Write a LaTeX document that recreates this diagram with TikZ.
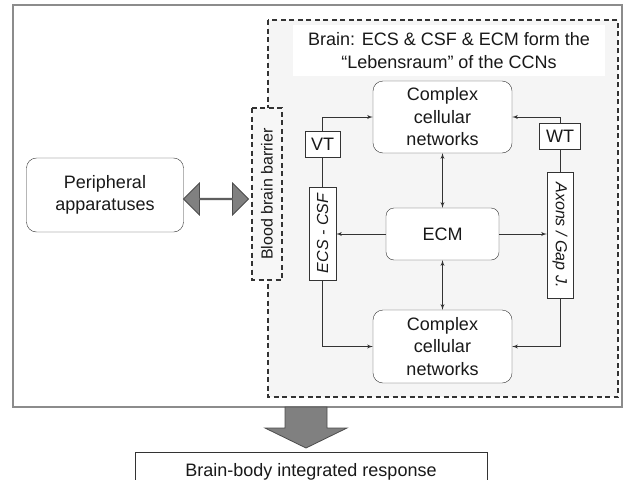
\documentclass[tikz,border=0pt]{standalone}
\usepackage{fontspec}
\setmainfont{Liberation Sans}
\usetikzlibrary{arrows,shapes.arrows}

\begin{document}
\begin{tikzpicture}[x=1pt,y=-1pt]
      \tikzset { box/.style = { draw=black!80,fill=white,text=black!90,font=\fontsize{18}{22.5}\selectfont } }
      \tikzset { rbox/.style = { box,rounded corners=10pt,align=center } }
      \tikzset { side/.style = { box,font=\fontsize{16}{19}\selectfont\itshape,inner sep=1pt } }
      \tikzset { edge/.style = { ->,> = latex',draw=black!80,line width=0.9pt } }
      \tikzset { wall/.style = { dash pattern=on 5pt off 3.5pt,draw=black!80,line width=1.2pt } }
      \tikzset { big/.style = { fill=black!50,draw=black!70,line width=0.8pt,inner sep=0pt } }

      \useasboundingbox (0,0) rectangle (631,479);
      \draw[black!45,line width=2.5pt] (13,5) rectangle (622,407);
      \draw[wall,fill=black!4] (268,20) rectangle (618,397);

      \node[box,wall,fill=black!3,rotate=90,font=\fontsize{16}{19}\selectfont,minimum width=172pt,minimum height=30pt] (bbb) at (267,194) {Blood brain barrier};
      \node[box,draw=none,align=center,minimum width=312pt,minimum height=51pt] (title) at (449,50.5) {Brain: ECS \& CSF \& ECM form the\\“Lebensraum” of the CCNs};

      \node[rbox,minimum width=139pt,minimum height=72pt] (ccn1) at (442.5,117) {Complex\\cellular\\networks};
      \node[rbox,minimum width=139pt,minimum height=73pt] (ccn2) at (442.5,346.5) {Complex\\cellular\\networks};
      \node[rbox,rounded corners=8pt,minimum width=113pt,minimum height=52pt] (ecm) at (442.5,234) {ECM};
      \node[box,minimum width=35pt,minimum height=26pt,inner sep=2pt] (vt) at (322.5,144) {VT};
      \node[box,minimum width=41pt,minimum height=26pt,inner sep=2pt] (wt) at (560,136) {WT};
      \node[side,rotate=90,minimum width=93pt,minimum height=27pt] (ecs) at (322.5,233.5) {ECS - CSF};
      \node[side,rotate=-90,minimum width=126pt,minimum height=26pt] (axons) at (560,235) {Axons / Gap J.};
      \node[rbox,minimum width=157pt,minimum height=74pt] (per) at (105,195) {Peripheral\\apparatuses};

      \node[big,double arrow,minimum height=65pt,minimum width=32pt,double arrow head extend=8pt] (link) at (216,199) {};
      \node[box,anchor=north,minimum width=352pt,inner sep=0pt,text height=24pt,text depth=20pt] (resp) at (311,452) {Brain-body integrated response};

      % big arrow down to the response
      \coordinate (down) at (306,407);
      \draw[big] (down) ++(-21,0) -- ++(42,0) -- ++(0,21) -- ++(20,0) -- ++(-41,20) -- ++(-41,-20) -- ++(20,0) -- cycle;

      \draw[edge,-] (ecs.east) -- (vt.south);
      \draw[edge] (vt.north) |- (ccn1.west);
      \draw[edge,-] (axons.west) -- (wt.south);
      \draw[edge] (wt.north) |- (ccn1.east);
      \draw[edge] (ecs.west) |- (ccn2.west);
      \draw[edge] (axons.east) |- (ccn2.east);
      \draw[edge] (ecm.west) -- (ecm.west -| ecs.south);
      \draw[edge] (ecm.east) -- (ecm.east -| axons.south);
      \draw[edge,<->] (ccn1) -- (ecm);
      \draw[edge,<->] (ecm) -- (ccn2);

    \end{tikzpicture}
\end{document}
